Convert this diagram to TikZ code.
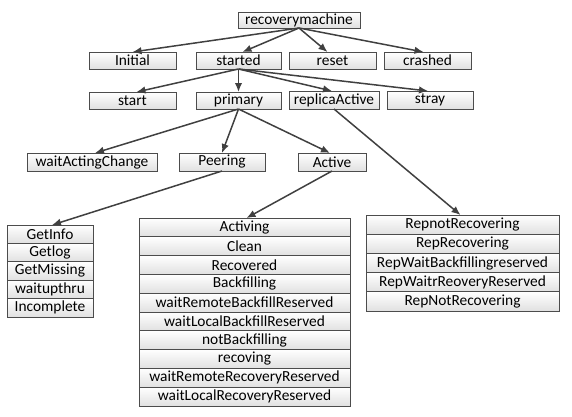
\documentclass[tikz,border=0pt]{standalone}
\usepackage{fontspec}
\setmainfont{Carlito}
\usetikzlibrary{arrows.meta,positioning}

\begin{document}
\begin{tikzpicture}[x=1pt, y=-1pt,
		mybox/.style={draw=black!70, line width=0.8pt, top color=white, bottom color=black!12, inner sep=0pt, outer sep=0pt, minimum height=17pt, font=\fontsize{15.4pt}{18pt}\selectfont},
		myrow/.style={mybox, anchor=north},
		myarrow/.style={-{Latex[length=9pt,width=7.5pt]}, line width=1.5pt, draw=black!75}
	]

	\useasboundingbox (0,0) rectangle (572,416);

	% top levels
	\node[mybox, minimum width=122pt, minimum height=16pt] (rm) at (299,20) {recoverymachine};

	\node[mybox, minimum width=87pt] (initial) at (132.5,60.5) {Initial};
	\node[mybox, minimum width=85pt] (started) at (238.5,60.5) {started};
	\node[mybox, minimum width=87pt] (reset) at (332.5,60.5) {reset};
	\node[mybox, minimum width=87pt] (crashed) at (427.5,60.5) {crashed};

	\node[mybox, minimum width=87pt] (start) at (132.5,100.5) {start};
	\node[mybox, minimum width=85pt] (primary) at (238.5,100.5) {primary};
	\node[mybox, minimum width=90pt, minimum height=18pt] (replica) at (334,100) {replicaActive};
	\node[mybox, minimum width=86pt, minimum height=18pt] (stray) at (430,100) {stray};

	\node[mybox, minimum width=130pt, minimum height=18pt] (waitacting) at (92,162) {waitActingChange};
	\node[mybox, minimum width=86pt, minimum height=18pt] (peering) at (222,162) {Peering};
	\node[mybox, minimum width=68pt, minimum height=18pt] (active) at (332,162) {Active};

	% peering states
	\node[myrow, minimum width=86pt, minimum height=18.4pt] (getinfo) at (50,225) {GetInfo};
	\node[myrow, minimum width=86pt, minimum height=18.4pt, below=0pt of getinfo] (getlog) {Getlog};
	\node[myrow, minimum width=86pt, minimum height=18.4pt, below=0pt of getlog] (getmissing) {GetMissing};
	\node[myrow, minimum width=86pt, minimum height=18.4pt, below=0pt of getmissing] (waitupthru) {waitupthru};
	\node[myrow, minimum width=86pt, minimum height=18.4pt, below=0pt of waitupthru] (incomplete) {Incomplete};

	% active states
	\node[myrow, minimum width=211pt, minimum height=18.8pt] (activing) at (244.5,218) {Activing};
	\node[myrow, minimum width=211pt, minimum height=18.8pt, below=0pt of activing] (clean) {Clean};
	\node[myrow, minimum width=211pt, minimum height=18.8pt, below=0pt of clean] (recovered) {Recovered};
	\node[myrow, minimum width=211pt, minimum height=18.8pt, below=0pt of recovered] (backfilling) {Backfilling};
	\node[myrow, minimum width=211pt, minimum height=18.8pt, below=0pt of backfilling] (waitrbf) {waitRemoteBackfillReserved};
	\node[myrow, minimum width=211pt, minimum height=18.8pt, below=0pt of waitrbf] (waitlbf) {waitLocalBackfillReserved};
	\node[myrow, minimum width=211pt, minimum height=18.8pt, below=0pt of waitlbf] (notbf) {notBackfilling};
	\node[myrow, minimum width=211pt, minimum height=18.8pt, below=0pt of notbf] (recoving) {recoving};
	\node[myrow, minimum width=211pt, minimum height=18.8pt, below=0pt of recoving] (waitrrec) {waitRemoteRecoveryReserved};
	\node[myrow, minimum width=211pt, minimum height=18.8pt, below=0pt of waitrrec] (waitlrec) {waitLocalRecoveryReserved};

	% replica states
	\node[myrow, minimum width=193pt, minimum height=19.2pt] (repnotrec) at (462.5,215) {RepnotRecovering};
	\node[myrow, minimum width=193pt, minimum height=19.2pt, below=0pt of repnotrec] (reprec) {RepRecovering};
	\node[myrow, minimum width=193pt, minimum height=19.2pt, below=0pt of reprec] (repwaitbf) {RepWaitBackfillingreserved};
	\node[myrow, minimum width=193pt, minimum height=19.2pt, below=0pt of repwaitbf] (repwaitrec) {RepWaitrReoveryReserved};
	\node[myrow, minimum width=193pt, minimum height=19.2pt, below=0pt of repwaitrec] (repnotrec2) {RepNotRecovering};

	% arrows
	\draw[myarrow] (rm.south) -- (initial.north);
	\draw[myarrow] (rm.south) -- ([xshift=4pt]started.north);
	\draw[myarrow] (rm.south) -- ([xshift=-5pt]reset.north);
	\draw[myarrow] (rm.south) -- ([xshift=-4pt]crashed.north);

	\draw[myarrow] (started.south) -- ([xshift=4pt]start.north);
	\draw[myarrow] (started.south) -- (primary.north);
	\draw[myarrow] (started.south) -- ([xshift=-2pt]replica.north);
	\draw[myarrow] (started.south) -- ([xshift=-2pt]stray.north);

	\draw[myarrow] (primary.south) -- ([xshift=3pt]waitacting.north);
	\draw[myarrow] (primary.south) -- (peering.north);
	\draw[myarrow] (primary.south) -- ([xshift=-2pt]active.north);

	\draw[myarrow] (peering.south) -- ([xshift=2pt]getinfo.north);
	\draw[myarrow] (active.south) -- ([xshift=2pt]activing.north);
	\draw[myarrow] (replica.south) -- ([xshift=-2pt]repnotrec.north);
\end{tikzpicture}
\end{document}
